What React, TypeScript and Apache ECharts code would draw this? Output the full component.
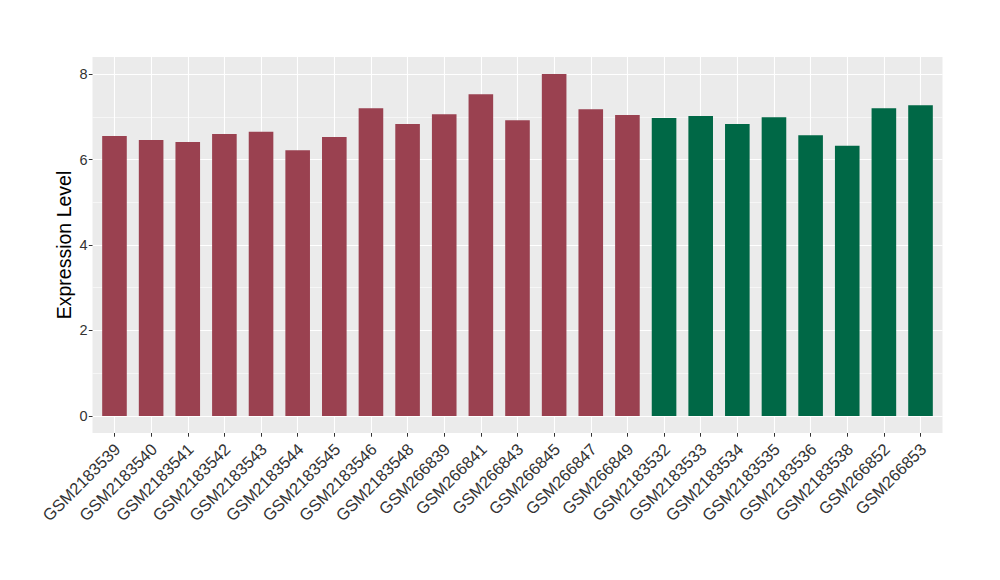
import React, { useEffect, useRef } from "react";
import * as echarts from "echarts";

const categories = [
  "GSM2183539", "GSM2183540", "GSM2183541", "GSM2183542", "GSM2183543",
  "GSM2183544", "GSM2183545", "GSM2183546", "GSM2183548", "GSM266839",
  "GSM266841", "GSM266843", "GSM266845", "GSM266847", "GSM266849",
  "GSM2183532", "GSM2183533", "GSM2183534", "GSM2183535", "GSM2183536",
  "GSM2183538", "GSM266852", "GSM266853",
];
const values = [
  6.55, 6.46, 6.41, 6.60, 6.65, 6.22, 6.53, 7.20, 6.83, 7.06,
  7.53, 6.92, 8.00, 7.18, 7.04,
  6.97, 7.02, 6.83, 6.99, 6.57, 6.32, 7.20, 7.27,
];
const groups = [
  0, 0, 0, 0, 0, 0, 0, 0, 0, 0, 0, 0, 0, 0, 0,
  1, 1, 1, 1, 1, 1, 1, 1,
];
const groupColors = ["#9A4150", "#006846"];
const yMajorTicks = [0, 2, 4, 6, 8];
const yMinorTicks = [1, 3, 5, 7];
const yTitle = "Expression Level";

export default function App() {
  const ref = useRef<HTMLDivElement>(null);
  useEffect(() => {
    if (!ref.current) return;
    const chart = echarts.init(ref.current, null, { renderer: "svg" });
    const idx = categories.map((_, i) => i);
    const font = "Liberation Sans, Arial, sans-serif";
    chart.setOption({
      animation: false,
      backgroundColor: "#FFFFFF",
      grid: {
        left: 92.5,
        top: 57,
        width: 850,
        height: 376,
        show: true,
        backgroundColor: "#EBEBEB",
        borderWidth: 0,
      },
      xAxis: {
        type: "value",
        min: -0.6,
        max: 22.6,
        position: "bottom",
        axisLine: { show: false, onZero: false },
        axisTick: {
          show: true,
          customValues: idx,
          length: 3.7,
          lineStyle: { color: "#333333", width: 1 },
        },
        axisLabel: {
          customValues: idx,
          rotate: 45,
          margin: 16,
          padding: [0, -4, 0, 0],
          fontSize: 16.5,
          fontFamily: font,
          color: "#333333",
          formatter: (v: number) => categories[Math.round(v)] ?? "",
        },
        splitLine: { show: true, lineStyle: { color: "#FFFFFF", width: 1.1 } },
      },
      yAxis: [
        {
          type: "value",
          min: -0.4,
          max: 8.4,
          position: "left",
          name: yTitle,
          nameLocation: "middle",
          nameGap: 18.5,
          nameMoveOverlap: false,
          nameTextStyle: { fontSize: 19.5, fontFamily: font, color: "#000000" },
          axisLine: { show: false, onZero: false },
          axisTick: {
            show: true,
            customValues: yMajorTicks,
            length: 3.7,
            lineStyle: { color: "#333333", width: 1 },
          },
          axisLabel: {
            customValues: yMajorTicks,
            margin: 5,
            fontSize: 14.5,
            fontFamily: font,
            color: "#333333",
          },
          splitLine: { show: true, lineStyle: { color: "#FFFFFF", width: 1.1 } },
        },
        {
          type: "value",
          min: -0.4,
          max: 8.4,
          position: "left",
          axisLine: { show: false, onZero: false },
          axisTick: { show: false, customValues: yMinorTicks },
          axisLabel: { show: false, customValues: yMinorTicks },
          splitLine: { show: true, lineStyle: { color: "#FFFFFF", width: 0.55 } },
        },
      ],
      series: [
        {
          type: "bar",
          xAxisIndex: 0,
          yAxisIndex: 0,
          barWidth: 24.6,
          data: values.map((v, i) => ({
            value: [i, v],
            itemStyle: { color: groupColors[groups[i]] },
          })),
        },
      ],
    });
    return () => chart.dispose();
  }, []);
  return (
    <div
      ref={ref}
      style={{ position: "fixed", left: 0, top: 0, width: 1000, height: 580 }}
    />
  );
}
